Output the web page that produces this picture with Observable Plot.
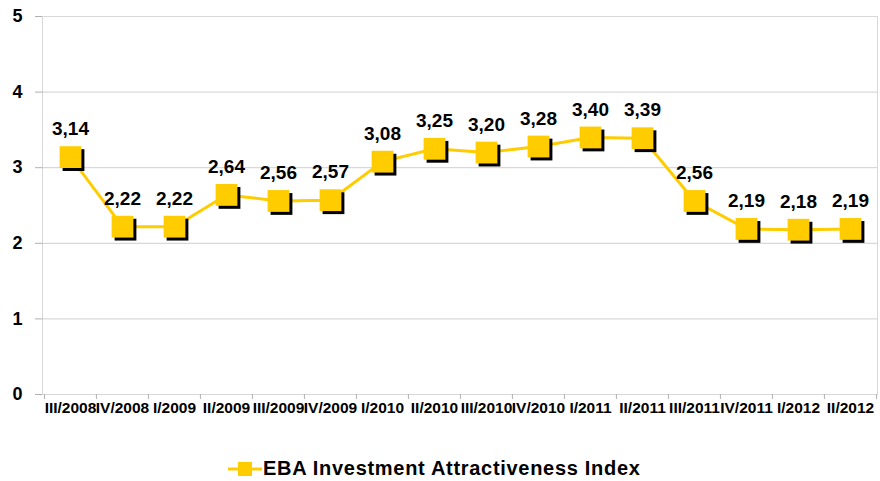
<!DOCTYPE html>
<html>
<head>
<meta charset="utf-8">
<script src="https://cdn.jsdelivr.net/npm/d3@7"></script>
<script src="https://cdn.jsdelivr.net/npm/@observablehq/plot@0.6"></script>
<style>
  html, body { margin: 0; padding: 0; background: #fff; }
  body { width: 880px; font-family: "Liberation Sans", Arial, sans-serif; }
  #legend { height: 41px; position: relative; }
  #legend .item { position: absolute; left: 228px; top: 17px; display: flex; align-items: center; }
  #legend span { font-weight: bold; font-size: 20px; letter-spacing: 0.7px; color: #000; margin-left: 1px; }
</style>
</head>
<body>
<div id="chart"></div>
<div id="legend"></div>
<script>
const quarters = ["III/2008","IV/2008","I/2009","II/2009","III/2009","IV/2009","I/2010","II/2010","III/2010","IV/2010","I/2011","II/2011","III/2011","IV/2011","I/2012","II/2012"];
const indexValues = [3.14, 2.22, 2.22, 2.64, 2.56, 2.57, 3.08, 3.25, 3.20, 3.28, 3.40, 3.39, 2.56, 2.19, 2.18, 2.19];
const yTicks = [0, 1, 2, 3, 4, 5];
const gridValues = [1, 2, 3, 4];
const seriesName = "EBA Investment Attractiveness Index";

const data = quarters.map((q, i) => ({q, v: indexValues[i]}));
const gold = "#FFCC00";
const fmt = v => v.toFixed(2).replace(".", ",");

const W = 880, H = 440, mL = 42, mR = 3;
const bw = (W - mL - mR) / quarters.length;

const chart = Plot.plot({
  width: W,
  height: H,
  marginLeft: mL,
  marginRight: mR,
  marginTop: 16,
  marginBottom: 46,
  style: {fontFamily: "'Liberation Sans', Arial, sans-serif", background: "#fff"},
  x: {type: "band", domain: quarters, padding: 0, label: null, axis: null},
  y: {domain: [0, 5], label: null, axis: null},
  marks: [
    Plot.ruleY(gridValues, {stroke: "#cfcfcf", strokeWidth: 1}),
    Plot.frame({stroke: "#b0b0b0", strokeDasharray: "1,1", strokeWidth: 1}),
    Plot.ruleY(yTicks, {y: d => d, insetLeft: -7, insetRight: W - mL - mR, stroke: "#b0b0b0"}),
    Plot.ruleX(quarters, {x: d => d, y1: 0, y2: 0, insetBottom: -5, dx: -bw / 2, stroke: "#b0b0b0"}),
    Plot.ruleX(quarters.slice(-1), {x: d => d, y1: 0, y2: 0, insetBottom: -5, dx: bw / 2, stroke: "#b0b0b0"}),
    Plot.text(yTicks, {y: d => d, text: d => String(d), frameAnchor: "left", textAnchor: "end", dx: -20, fontSize: 18, fontWeight: "bold", fill: "#000"}),
    Plot.text(quarters, {x: d => d, text: d => d, frameAnchor: "bottom", dy: 18, fontSize: 15.5, fontWeight: "bold", fill: "#000"}),
    Plot.line(data, {x: "q", y: "v", stroke: gold, strokeWidth: 3}),
    Plot.dot(data, {x: "q", y: "v", symbol: "square", r: 12.3, fill: "#000", dx: 3, dy: 3}),
    Plot.dot(data, {x: "q", y: "v", symbol: "square", r: 12.3, fill: gold}),
    Plot.text(data, {x: "q", y: "v", text: d => fmt(d.v), dy: -28, fontSize: 19, fontWeight: "bold", fill: "#000", style: "letter-spacing:1px"})
  ]
});
document.getElementById("chart").appendChild(chart);

const legend = document.getElementById("legend");
legend.innerHTML = `<div class="item"><svg width="34" height="16" viewBox="0 0 34 16"><line x1="0" y1="8" x2="34" y2="8" stroke="${gold}" stroke-width="3"/><rect x="10" y="1" width="14" height="14" fill="${gold}"/></svg><span>${seriesName}</span></div>`;
</script>
</body>
</html>
